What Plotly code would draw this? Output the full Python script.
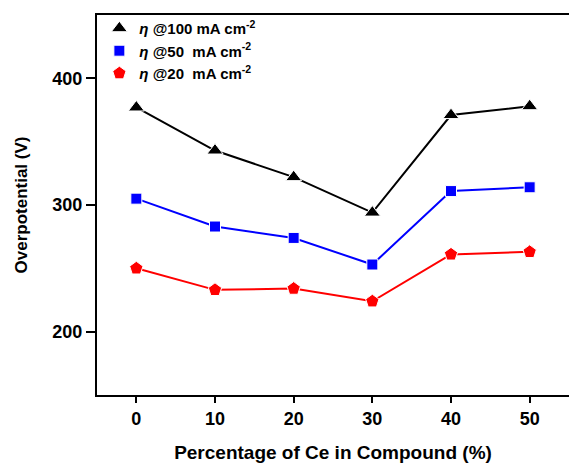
import plotly.graph_objects as go

ce_percent = [0, 10, 20, 30, 40, 50]
eta_100 = [377, 343, 322, 294, 371, 378]
eta_50 = [305, 283, 274, 253, 311, 314]
eta_20 = [250, 233, 234, 224, 261, 263]

series = [
    ("<i>η</i> @100 mA cm<sup>-2</sup>", eta_100, "#000000", "triangle-up", 14),
    ("<i>η</i> @50  mA cm<sup>-2</sup>", eta_50, "#0000FF", "square", 11),
    ("<i>η</i> @20  mA cm<sup>-2</sup>", eta_20, "#FF0000", "pentagon", 14),
]

fig = go.Figure()
for name, vals, color, symbol, size in series:
    marker = dict(symbol=symbol, size=size, color=color,
                  line=dict(color="white", width=1))
    # data line with markers (no legend entry)
    fig.add_trace(go.Scatter(
        x=ce_percent, y=vals, mode="lines+markers", showlegend=False,
        line=dict(color=color, width=2), marker=marker, hoverinfo="x+y",
    ))
    # marker-only legend entry
    fig.add_trace(go.Scatter(
        x=[None], y=[None], name=name, mode="markers", marker=marker,
    ))

font_family = "Liberation Sans, Arial"
tick_font = dict(family=font_family, size=18, color="black", weight="bold")

fig.update_layout(
    width=569, height=466,
    margin=dict(l=97, r=0, t=15, b=71),
    plot_bgcolor="white", paper_bgcolor="white",
    showlegend=True,
    legend=dict(
        x=0.005, y=1.008, xanchor="left", yanchor="top",
        bgcolor="rgba(0,0,0,0)", tracegroupgap=0,
        font=dict(family=font_family, size=15, color="black", weight="bold"),
        itemwidth=30,
    ),
    xaxis=dict(
        range=[-5, 55], tickvals=ce_percent, ticktext=[str(v) for v in ce_percent],
        showline=True, linecolor="black", linewidth=2, mirror=True,
        ticks="outside", ticklen=6, tickwidth=2, tickcolor="black",
        showgrid=False, zeroline=False, tickfont=tick_font,
        title=dict(text="Percentage of Ce in Compound (%)", standoff=18,
                   font=dict(family=font_family, size=19, color="black", weight="bold")),
    ),
    yaxis=dict(
        range=[150, 450], tickvals=[200, 300, 400],
        showline=True, linecolor="black", linewidth=2,
        ticks="outside", ticklen=9, tickwidth=2, tickcolor="black",
        showgrid=False, zeroline=False, tickfont=tick_font,
        title=dict(text="Overpotential (V)", standoff=20,
                   font=dict(family=font_family, size=17, color="black", weight="bold")),
    ),
)

fig.write_html("out.html")
